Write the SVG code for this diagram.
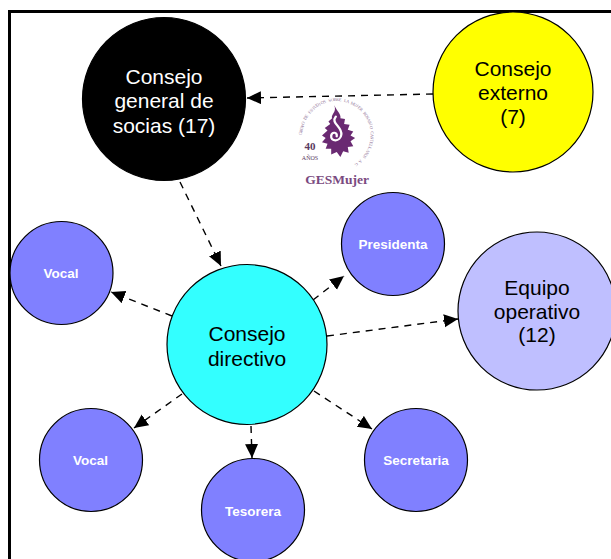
<svg xmlns="http://www.w3.org/2000/svg" width="611" height="559" viewBox="0 0 611 559">
<style>
text{font-family:"Liberation Sans",Arial,sans-serif;text-anchor:middle}
.n{stroke:#000;stroke-width:1.2}
.big{font-size:21px}
.sm{font-size:13.500px;font-weight:bold;fill:#fff}
.c line{stroke:#000;stroke-width:1.4;stroke-dasharray:7 6;marker-end:url(#a)}
.l{fill:#6a2a72}
.s{font-family:"Liberation Serif",serif}
</style>
<defs>
<marker id="a" markerUnits="userSpaceOnUse" markerWidth="15" markerHeight="14" refX="14" refY="6.500" orient="auto"><path d="M0 0L14 6.500L0 13Z"/></marker>
</defs>
<rect width="611" height="559" fill="#fff"/>
<path d="M9.500 559V11.500H611" fill="none" stroke="#000" stroke-width="3"/>
<g id="logo">
<text class="s" font-size="5" fill="#8f7296" transform="translate(338 135) scale(.872) translate(-337 -133)"
 x="298 298.100 298.400 299 299.700 300.700 301.800 303.100 304.700 306.400 308.200 310.300 312.500 314.800 317.200 319.800 322.400 325.100 327.900 330.700 333.600 336.500 339.400 342.300 345.100 347.900 350.700 353.300 355.900 358.400 360.700 363 365.100 367 368.800 370.300 371.700 373 374 374.800 375.400 375.800 376 376 375.700 375.300 374.600 373.700 372.600 371.400 369.900 368.300 366.400 364.500 362.300 360.100 357.700"
 y="133 130.100 127.200 124.400 121.600 118.900 116.200 113.600 111.200 108.900 106.700 104.600 102.700 101 99.400 98 96.800 95.900 95.100 94.500 94.100 94 94.100 94.400 94.900 95.600 96.500 97.600 98.900 100.400 102.100 103.900 105.900 108.100 110.400 112.800 115.300 117.900 120.600 123.400 126.200 129.100 132 134.900 137.800 140.600 143.400 146.200 148.900 151.500 154 156.300 158.600 160.700 162.700 164.400 166.100"
 rotate="-90 -85.750 -81.500 -77.250 -73 -68.750 -64.500 -60.250 -56 -51.750 -47.500 -43.250 -39 -34.750 -30.500 -26.250 -22 -17.750 -13.500 -9.250 -5 -.750 3.500 7.750 12 16.250 20.500 24.750 29 33.250 37.500 41.750 46 50.250 54.500 58.750 63 67.250 71.500 75.750 80 84.250 88.500 92.750 97 101.250 105.500 109.750 114 118.250 122.500 126.750 131 135.250 139.500 143.750 148">GRUPO DE ESTUDIOS SOBRE LA MUJER ROSARIO CASTELLANOS A.C.</text>
<g transform="translate(322 105) scale(.92 .825) translate(-322 -108)">
<path class="l" d="M335 108C339 116 331 120 333 124L329 128L331 131L325 136L328 139L322 145L326 148L322 153L328 155L326 161L332 161L332 168L338 165L342 171L345 164L351 166L350 159L356 158L353 152L358 148L353 145L356 140L350 138L352 132L346 131L347 125L342 124C343 120 339 116 335 108Z"/>
<path d="M337 122C331 130 344 134 343 144C342 153 331 153 332 145C333 140 339 141 338 146" fill="none" stroke="#fff" stroke-width="2.500" stroke-linecap="round"/>
</g>
<text class="s" x="310" y="150" font-size="11" font-weight="bold" fill="#5a3a60">40</text>
<text class="s" x="310" y="160" font-size="6" fill="#5a3a60">AÑOS</text>
<text class="s" x="337" y="184" font-size="13.500" font-weight="bold" fill="#7a4a80">GESMujer</text>
</g>
<g class="c" id="connectors">
<line x1="433" y1="94" x2="247" y2="98"/>
<line x1="180" y1="182" x2="221" y2="266"/>
<line x1="172" y1="316" x2="111" y2="292"/>
<line x1="313" y1="300" x2="344" y2="276"/>
<line x1="327" y1="336" x2="458" y2="319"/>
<line x1="182" y1="394" x2="134" y2="428"/>
<line x1="251" y1="426" x2="252" y2="458"/>
<line x1="314" y1="391" x2="372" y2="429"/>
</g>
<g id="general"><circle class="n" cx="164" cy="99" r="81.500" fill="#000"/><text class="big" fill="#fff"><tspan x="164" y="84">Consejo</tspan><tspan x="164" y="108">general de</tspan><tspan x="164" y="133">socias (17)</tspan></text></g>
<g id="externo"><circle class="n" cx="513" cy="92" r="80" fill="#ff0"/><text class="big"><tspan x="513" y="76">Consejo</tspan><tspan x="513" y="100">externo</tspan><tspan x="513" y="124">(7)</tspan></text></g>
<g id="directivo"><circle class="n" cx="247" cy="344.500" r="80" fill="#3ff"/><text class="big"><tspan x="247" y="341">Consejo</tspan><tspan x="247" y="366">directivo</tspan></text></g>
<g id="equipo"><circle class="n" cx="537" cy="311" r="79" fill="#bfbfff"/><text class="big"><tspan x="537" y="295">Equipo</tspan><tspan x="537" y="319">operativo</tspan><tspan x="537" y="342">(12)</tspan></text></g>
<g id="presidenta"><circle class="n" cx="393" cy="244" r="51.500" fill="#8080ff"/><text class="sm" x="393" y="249">Presidenta</text></g>
<g id="vocal1"><circle class="n" cx="61.500" cy="273" r="51.500" fill="#8080ff"/><text class="sm" x="61" y="278">Vocal</text></g>
<g id="vocal2"><circle class="n" cx="91" cy="460" r="51.500" fill="#8080ff"/><text class="sm" x="90.500" y="465">Vocal</text></g>
<g id="tesorera"><circle class="n" cx="253" cy="510" r="51.500" fill="#8080ff"/><text class="sm" x="253" y="516">Tesorera</text></g>
<g id="secretaria"><circle class="n" cx="416" cy="460" r="51.500" fill="#8080ff"/><text class="sm" x="416" y="465">Secretaria</text></g>
</svg>
